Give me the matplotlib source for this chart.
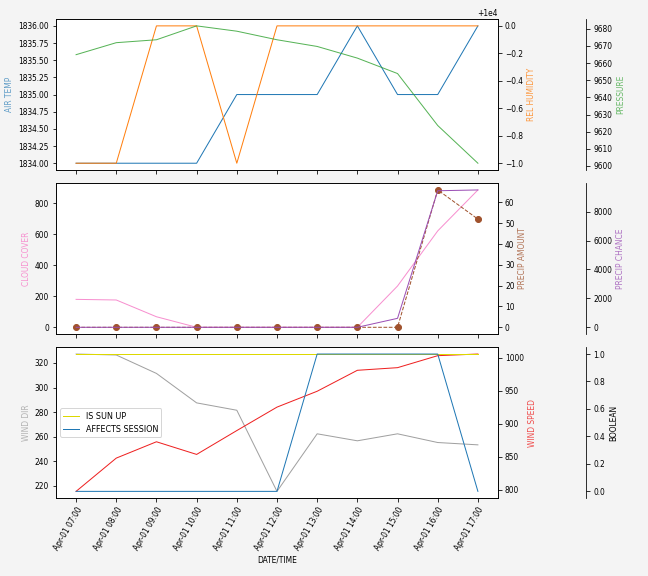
import numpy as np
import pandas as pd
import matplotlib
matplotlib.use("Agg")
import matplotlib.pyplot as plt
import matplotlib.dates as mdates

plt.rcParams['font.size'] = 7.5

# hourly forecast, Apr-01 07:00 .. 17:00
times = pd.date_range("2021-04-01 07:00", "2021-04-01 17:00", freq="h")

air_temp = [1834, 1834, 1834, 1834, 1835, 1835, 1835, 1836, 1835, 1835, 1836]
rel_humidity = [9999, 9999, 10000, 10000, 9999, 10000, 10000, 10000, 10000, 10000, 10000]
pressure = [9664.9, 9671.9, 9673.6, 9681.7, 9678.6, 9673.6, 9669.7, 9662.9, 9653.9, 9623.6, 9601.6]

cloud_cover = [180, 176, 68, 0, 0, 0, 0, 0, 266, 621, 885]
precip_amount = [0, 0, 0, 0, 0, 0, 0, 0, 0, 66, 52]
precip_chance = [0, 0, 0, 0, 0, 0, 0, 0, 620, 9440, 9495]

wind_dir = [327.3, 326.5, 311.5, 287.5, 281.5, 215.4, 262.3, 256.6, 262.3, 255.2, 253.3]
wind_speed = [797.5, 848, 872.8, 853.6, 889.8, 925.4, 949.5, 981.3, 985.3, 1003.5, 1006]
is_sun_up = [1, 1, 1, 1, 1, 1, 1, 1, 1, 1, 1]
affects_session = [0, 0, 0, 0, 0, 0, 1, 1, 1, 1, 0]


def make_third(ax):
    # extra y axis, spine pushed out to the right
    par = ax.twinx()
    par.spines['right'].set_position(('axes', 1.2))
    par.set_frame_on(True)
    par.patch.set_visible(False)
    for sp in par.spines.values():
        sp.set_visible(False)
    par.spines['right'].set_visible(True)
    return par


fig, (ax1, ax2, ax3) = plt.subplots(3, 1, sharex=True, figsize=(9, 8), dpi=72)
fig.patch.set_facecolor('#f4f4f4')
fig.subplots_adjust(left=0.0864, right=0.7685, top=0.967, bottom=0.135, hspace=0.086)

# top panel
ax1.plot(times, air_temp, color='tab:blue', lw=1)
ax1.set_ylabel('AIR TEMP', color='tab:blue', alpha=0.7)
ax1b = ax1.twinx()
ax1b.plot(times, rel_humidity, color='tab:orange', lw=1)
ax1b.set_ylabel('REL HUMIDITY', color='tab:orange', alpha=0.8)
ax1c = make_third(ax1)
ax1c.plot(times, pressure, color='tab:green', lw=1, alpha=0.8)
ax1c.set_ylabel('PRESSURE', color='tab:green', alpha=0.7)

# middle panel
ax2.plot(times, cloud_cover, color='#f78fcf', lw=1)
ax2.set_ylabel('CLOUD COVER', color='#f78fcf')
ax2b = ax2.twinx()
ax2b.plot(times, precip_amount, color='#a0522d', lw=1, ls='--', marker='o', markersize=6)
ax2b.set_ylabel('PRECIP AMOUNT', color='#a0522d', alpha=0.8)
ax2c = make_third(ax2)
ax2c.plot(times, precip_chance, color='#9b4fb5', lw=1)
ax2c.set_ylabel('PRECIP CHANCE', color='#9b4fb5', alpha=0.8)

# bottom panel
ax3.plot(times, wind_dir, color='#a0a0a0', lw=1)
ax3.set_ylabel('WIND DIR', color='#a0a0a0', alpha=0.8)
ax3b = ax3.twinx()
ax3b.plot(times, wind_speed, color='#ee2020', lw=1)
ax3b.set_ylabel('WIND SPEED', color='#ee2020', alpha=0.8)
ax3c = make_third(ax3)
ax3c.plot(times, is_sun_up, color='#dcd800', lw=1, label='IS SUN UP')
ax3c.plot(times, affects_session, color='tab:blue', lw=1, label='AFFECTS SESSION')
ax3c.set_ylabel('BOOLEAN', color='black')
ax3c.legend(loc='center left', fontsize=8)

ax3.set_xticks(times)
ax3.xaxis.set_major_formatter(mdates.DateFormatter('%b-%d %H:%M'))
plt.setp(ax3.get_xticklabels(), rotation=60, ha='right', rotation_mode='anchor')
ax3.set_xlabel('DATE/TIME')

plt.savefig('out.png', dpi=72, facecolor=fig.get_facecolor())
